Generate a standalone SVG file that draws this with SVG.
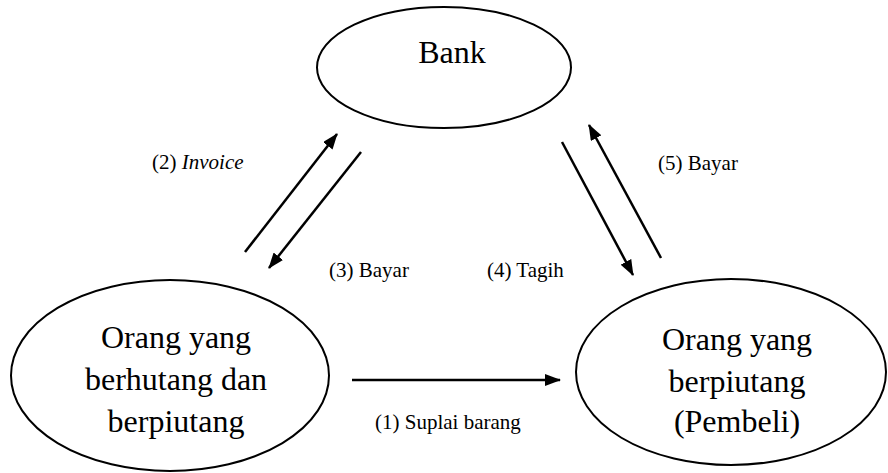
<svg xmlns="http://www.w3.org/2000/svg" width="888" height="473" viewBox="0 0 888 473">
  <style>
    .node { fill: #ffffff; stroke: #000000; stroke-width: 2; }
    .big { font-family: "Liberation Serif", "Times New Roman", serif; font-size: 32px; fill: #000000; text-anchor: middle; }
    .lbl { font-family: "Liberation Serif", "Times New Roman", serif; font-size: 21px; fill: #000000; }
    .edge { stroke: #000000; stroke-width: 2.5; fill: none; marker-end: url(#head); }
  </style>
  <defs>
    <marker id="head" viewBox="0 0 16 12" refX="15" refY="6" markerWidth="16" markerHeight="12" markerUnits="userSpaceOnUse" orient="auto">
      <path d="M0,0 L16,6 L0,12 Z" fill="#000000"/>
    </marker>
  </defs>
  <rect width="888" height="473" fill="#ffffff"/>

  <g id="bank">
    <ellipse class="node" cx="444" cy="67.5" rx="127" ry="60.5"/>
    <text class="big" x="452" y="63">Bank</text>
  </g>

  <g id="debtor-creditor">
    <ellipse class="node" cx="170" cy="375.5" rx="159" ry="95.5"/>
    <text class="big" x="176" y="348">Orang yang</text>
    <text class="big" x="176" y="390">berhutang dan</text>
    <text class="big" x="176" y="432">berpiutang</text>
  </g>

  <g id="creditor-buyer">
    <ellipse class="node" cx="731" cy="372" rx="155" ry="93"/>
    <text class="big" x="737" y="350">Orang yang</text>
    <text class="big" x="737" y="392">berpiutang</text>
    <text class="big" x="737" y="432">(Pembeli)</text>
  </g>

  <g id="connectors">
    <line class="edge" x1="245" y1="252" x2="337" y2="134"/>
    <line class="edge" x1="361" y1="152" x2="269" y2="268"/>
    <line class="edge" x1="562" y1="142" x2="633" y2="275"/>
    <line class="edge" x1="661" y1="258" x2="589" y2="125"/>
    <line class="edge" x1="352" y1="380" x2="560" y2="380"/>
  </g>

  <g id="labels">
    <text class="lbl" x="152" y="169">(2) <tspan font-style="italic">Invoice</tspan></text>
    <text class="lbl" x="329" y="277">(3) Bayar</text>
    <text class="lbl" x="487" y="277">(4) Tagih</text>
    <text class="lbl" x="658" y="170">(5) Bayar</text>
    <text class="lbl" x="375" y="429">(1) Suplai barang</text>
  </g>
</svg>
